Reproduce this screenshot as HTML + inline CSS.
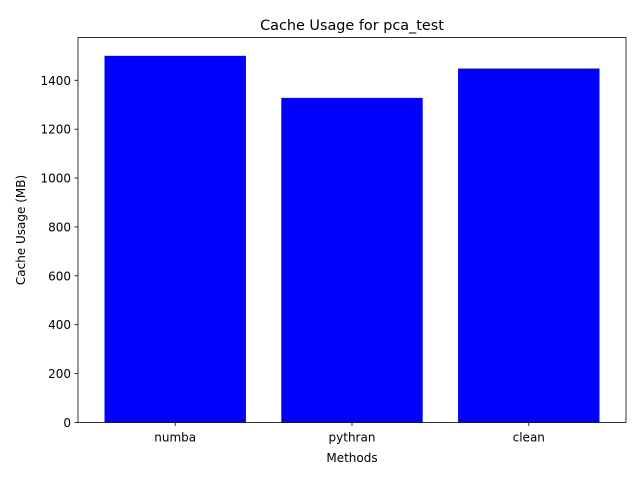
<!DOCTYPE html>
<html><head><meta charset="utf-8"><style>
html,body{margin:0;padding:0;background:#fff;}
svg{display:block;font-family:"DejaVu Sans","Liberation Sans",sans-serif;}
</style></head><body>
<svg id="chart" width="640" height="480"></svg>
<script>
const categories = ["numba", "pythran", "clean"];
const values = [1500, 1328, 1448];
const yTicks = [0, 200, 400, 600, 800, 1000, 1200, 1400];

const L = 78, R = 626, T = 37.5, B = 422.5;
const yMax = 1575;
const xMin = -0.55, xMax = 2.55;
const ns = "http://www.w3.org/2000/svg";
const svg = document.getElementById("chart");
const xs = v => L + (v - xMin) / (xMax - xMin) * (R - L);
const ys = v => B - v / yMax * (B - T);
function mk(tag, attrs, text) {
  const e = document.createElementNS(ns, tag);
  for (const k in attrs) e.setAttribute(k, attrs[k]);
  if (text !== undefined) e.textContent = text;
  svg.appendChild(e);
  return e;
}
categories.forEach((c, i) => {
  const r = mk("rect", {x: xs(i - 0.4), y: ys(values[i]), width: xs(i + 0.4) - xs(i - 0.4), height: B - ys(values[i]), fill: "#0000ff"});
  
  
  const t = mk("line", {x1: xs(i), x2: xs(i), y1: B, y2: B + 3.5, stroke: "#000", "stroke-width": 0.8});
  
  
  const lb = mk("text", {x: xs(i), y: B + 19, "text-anchor": "middle", "font-size": 12}, c);
  
  
});
yTicks.forEach(v => {
  const t = mk("line", {x1: L - 3.5, x2: L, y1: ys(v), y2: ys(v), stroke: "#000", "stroke-width": 0.8});
  
  
  const lb = mk("text", {x: L - 7, y: ys(v) + 4.5, "text-anchor": "end", "font-size": 12}, String(v));
  
  
});
const frame = mk("rect", {x: L, y: T, width: R - L, height: B - T, fill: "none", stroke: "#000", "stroke-width": 0.8});


const title = mk("text", {x: (L + R) / 2, y: 30, "text-anchor": "middle", "font-size": 14.4}, "Cache Usage for pca_test");


const xt = mk("text", {x: (L + R) / 2, y: 462, "text-anchor": "middle", "font-size": 12}, "Methods");


const yt = mk("text", {x: 0, y: 0, "text-anchor": "middle", "font-size": 12, transform: "translate(25," + (T + B) / 2 + ") rotate(-90)"}, "Cache Usage (MB)");


</script>
</body></html>
